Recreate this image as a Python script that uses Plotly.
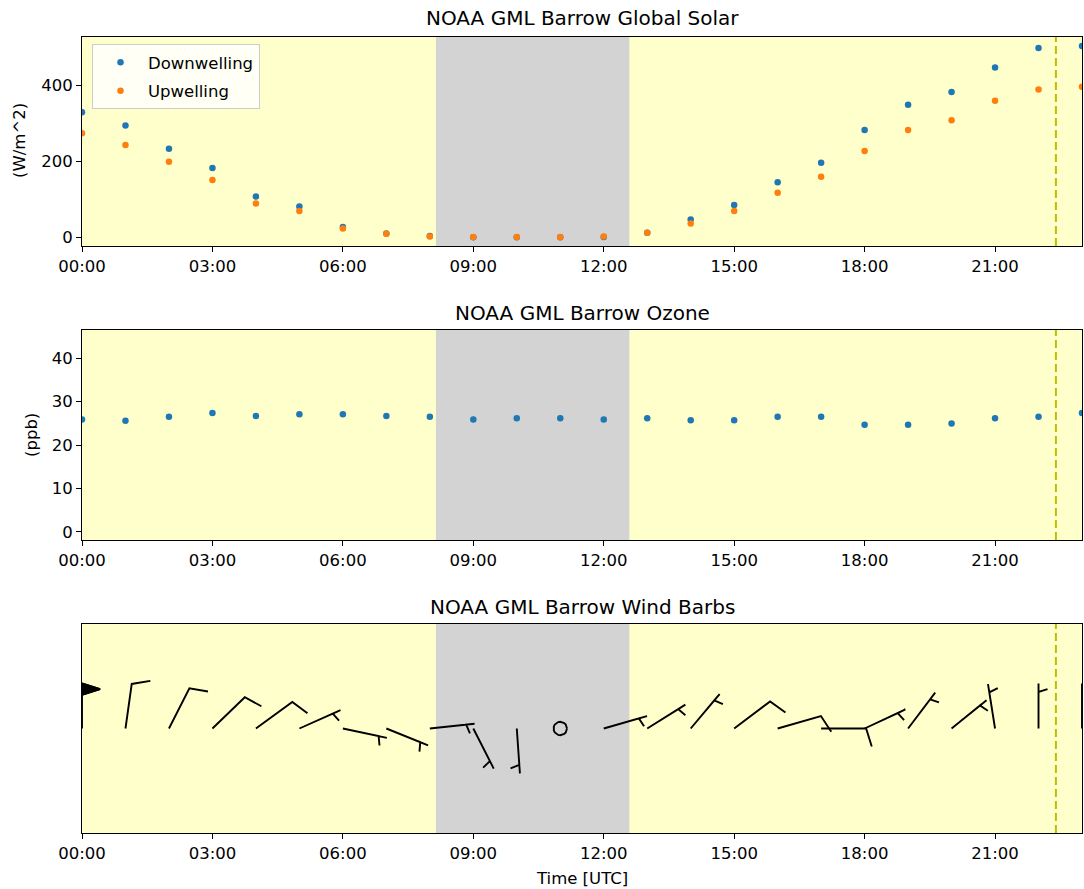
import numpy as np
import plotly.graph_objects as go

# ---------------- data ----------------
hours = list(range(24))
tick_hours = [0, 3, 6, 9, 12, 15, 18, 21]
tick_labels = ["00:00", "03:00", "06:00", "09:00", "12:00", "15:00", "18:00", "21:00"]

downwelling = [329, 294, 233, 182, 107, 81, 27, 10, 3, 0, 0, 0, 1, 12, 47, 85,
               145, 196, 282, 349, 382, 447, 498, 503]
upwelling = [274, 243, 199, 151, 89, 69, 23, 9, 2, 1, 1, 1, 2, 12, 36, 69,
             117, 159, 227, 282, 308, 359, 389, 396]
ozone = [25.9, 25.6, 26.5, 27.4, 26.7, 27.1, 27.1, 26.7, 26.5, 25.9, 26.2, 26.2,
         25.9, 26.2, 25.7, 25.7, 26.5, 26.5, 24.7, 24.7, 25.0, 26.2, 26.5, 27.4]
wind_dir = [0, 8, 27, 46, 54, 66, 102, 112, 84, 153, 176, 0,
            74, 58, 40, 53, 74, 90, 65, 37, 51, 351, 0, 0]
wind_speed = [50, 10, 10, 10, 10, 5, 5, 5, 5, 5, 5, 0,
              5, 5, 5, 10, 10, 10, 5, 5, 5, 5, 5, 5]

night_start = 8.14   # hours UTC
night_end = 12.59
now_hour = 22.40

# ---------------- layout geometry ----------------
W, H = 1084, 889
ML, MR, MT, MB = 82, 2, 37, 56
PW = W - ML - MR
PH = H - MT - MB
panels_px = [(37, 246), (330, 540), (624, 833)]


def py(px):
    return (H - MB - px) / PH


domains = [[py(b), py(t)] for t, b in panels_px]

XR = [0, 23]
FONT = "DejaVu Sans"
BLUE = "#1f77b4"
ORANGE = "#ff7f0e"

fig = go.Figure()

fig.add_trace(go.Scatter(x=hours, y=downwelling, mode="markers", name="Downwelling",
                         legendgroup="d", marker=dict(color=BLUE, size=6.5),
                         xaxis="x", yaxis="y"))
fig.add_trace(go.Scatter(x=hours, y=upwelling, mode="markers", name="Upwelling",
                         legendgroup="u", marker=dict(color=ORANGE, size=6.5),
                         xaxis="x", yaxis="y"))
fig.add_trace(go.Scatter(x=hours, y=ozone, mode="markers", showlegend=False,
                         marker=dict(color=BLUE, size=6.5), xaxis="x2", yaxis="y2"))

# ---------------- wind barbs (matplotlib style geometry) ----------------
L = 45.0
spacing = 0.125 * L
full_h = 0.4 * L
full_w = 0.25 * L
empty_r = 0.15 * L
pxx = PW / (XR[1] - XR[0])
YR3 = [-1, 1]
ph3 = panels_px[2][1] - panels_px[2][0]
pxy = ph3 / (YR3[1] - YR3[0])

lx, ly, fx, fy = [], [], [], []
for h, d, s in zip(hours, wind_dir, wind_speed):
    mag = 5 * round(s / 5.0)
    nflags = int(mag // 50)
    rem = mag - 50 * nflags
    nbarbs = int(rem // 10)
    half = (rem - 10 * nbarbs) >= 5
    th = np.radians(d)
    sv = np.array([np.sin(th), np.cos(th)])
    pv = np.array([np.cos(th), -np.sin(th)])

    def tr(pts):
        xs, ys = [], []
        for a, b in pts:
            v = a * pv + b * sv
            xs.append(h + v[0] / pxx)
            ys.append(v[1] / pxy)
        return xs, ys

    if nflags == 0 and nbarbs == 0 and not half:
        ang = np.linspace(0, 2 * np.pi, 21)
        xs = [h + empty_r * np.cos(a) / pxx for a in ang]
        ys = [empty_r * np.sin(a) / pxy for a in ang]
        lx += xs + [None]
        ly += ys + [None]
        continue
    verts = [(0.0, 0.0)]
    offset = L
    flags = []
    for i in range(nflags):
        if offset != L:
            offset += spacing / 2.0
        tri = [(0.0, offset), (full_h, offset - full_w / 2), (0.0, offset - full_w)]
        verts += tri
        flags.append(tri)
        offset -= full_w + spacing
    for i in range(nbarbs):
        verts += [(0.0, offset), (full_h, offset + full_w / 2), (0.0, offset)]
        offset -= spacing
    if half:
        if offset == L:
            verts.append((0.0, offset))
            offset -= 1.5 * spacing
        verts += [(0.0, offset), (full_h / 2, offset + full_w / 4), (0.0, offset)]
    verts.append((0.0, 0.0))
    xs, ys = tr(verts)
    lx += xs + [None]
    ly += ys + [None]
    for tri in flags:
        xs, ys = tr(tri + [tri[0]])
        fx += xs + [None]
        fy += ys + [None]

fig.add_trace(go.Scatter(x=lx, y=ly, mode="lines", showlegend=False,
                         line=dict(color="black", width=1.9),
                         xaxis="x3", yaxis="y3", hoverinfo="skip"))
if fx:
    fig.add_trace(go.Scatter(x=fx, y=fy, mode="lines", fill="toself", fillcolor="black",
                             showlegend=False, line=dict(color="black", width=1.9),
                             xaxis="x3", yaxis="y3", hoverinfo="skip"))

# ---------------- shapes ----------------
shapes = []
for xa, ya in [("x", "y"), ("x2", "y2"), ("x3", "y3")]:
    shapes.append(dict(type="rect", xref=xa, yref=ya + " domain", x0=night_start, x1=night_end,
                       y0=0, y1=1, fillcolor="#d3d3d3", line=dict(width=0), layer="below"))
    shapes.append(dict(type="line", xref=xa, yref=ya + " domain", x0=now_hour, x1=now_hour,
                       y0=0, y1=1, line=dict(color="#bfbf00", width=2, dash="8px,4px"),
                       layer="above"))

# ---------------- axes ----------------
axis_common = dict(showline=True, linecolor="black", linewidth=1, mirror=True,
                   showgrid=False, zeroline=False, ticks="outside", ticklen=5,
                   tickwidth=1, tickcolor="black",
                   tickfont=dict(family=FONT, size=16.5, color="black"))

layout = dict(
    width=W, height=H,
    margin=dict(l=ML, r=MR, t=MT, b=MB),
    paper_bgcolor="white", plot_bgcolor="#ffffcc",
    font=dict(family=FONT, color="black"),
    shapes=shapes,
    legend=dict(x=0.01, y=py(44), xanchor="left", yanchor="top",
                bgcolor="rgba(255,255,255,0.8)", bordercolor="#cccccc", borderwidth=1,
                itemwidth=45, tracegroupgap=4,
                font=dict(family=FONT, size=16.5, color="black")),
)
for i, (dom, yr) in enumerate(zip(domains, [[-23, 527], [-1.85, 46.5], YR3])):
    sx = "" if i == 0 else str(i + 1)
    layout["xaxis" + sx] = dict(axis_common, domain=[0, 1], range=XR,
                                tickvals=tick_hours, ticktext=tick_labels,
                                anchor="y" + sx)
    ya = dict(axis_common, domain=dom, range=yr, anchor="x" + sx)
    if i == 0:
        ya.update(tickvals=[0, 200, 400])
    elif i == 1:
        ya.update(tickvals=[0, 10, 20, 30, 40])
    else:
        ya.update(showticklabels=False, ticks="")
    layout["yaxis" + sx] = ya

titles = ["NOAA GML Barrow Global Solar", "NOAA GML Barrow Ozone", "NOAA GML Barrow Wind Barbs"]
title_y = [18, 313, 607]
ann = []
for t, y in zip(titles, title_y):
    ann.append(dict(text=t, x=0.5, y=py(y), xref="paper", yref="paper", showarrow=False,
                    xanchor="center", yanchor="middle", font=dict(family=FONT, size=20, color="black")))
ann.append(dict(text="(W/m^2)", x=0, xshift=-63, y=py(141), xref="paper", yref="paper",
                textangle=-90, showarrow=False, xanchor="center", yanchor="middle",
                font=dict(family=FONT, size=16.5, color="black")))
ann.append(dict(text="(ppb)", x=0, xshift=-51, y=py(435), xref="paper", yref="paper",
                textangle=-90, showarrow=False, xanchor="center", yanchor="middle",
                font=dict(family=FONT, size=16.5, color="black")))
ann.append(dict(text="Time [UTC]", x=0.5, y=py(878), xref="paper", yref="paper",
                showarrow=False, xanchor="center", yanchor="middle",
                font=dict(family=FONT, size=16.5, color="black")))
layout["annotations"] = ann

fig.update_layout(**layout)
fig.write_html("out.html")
